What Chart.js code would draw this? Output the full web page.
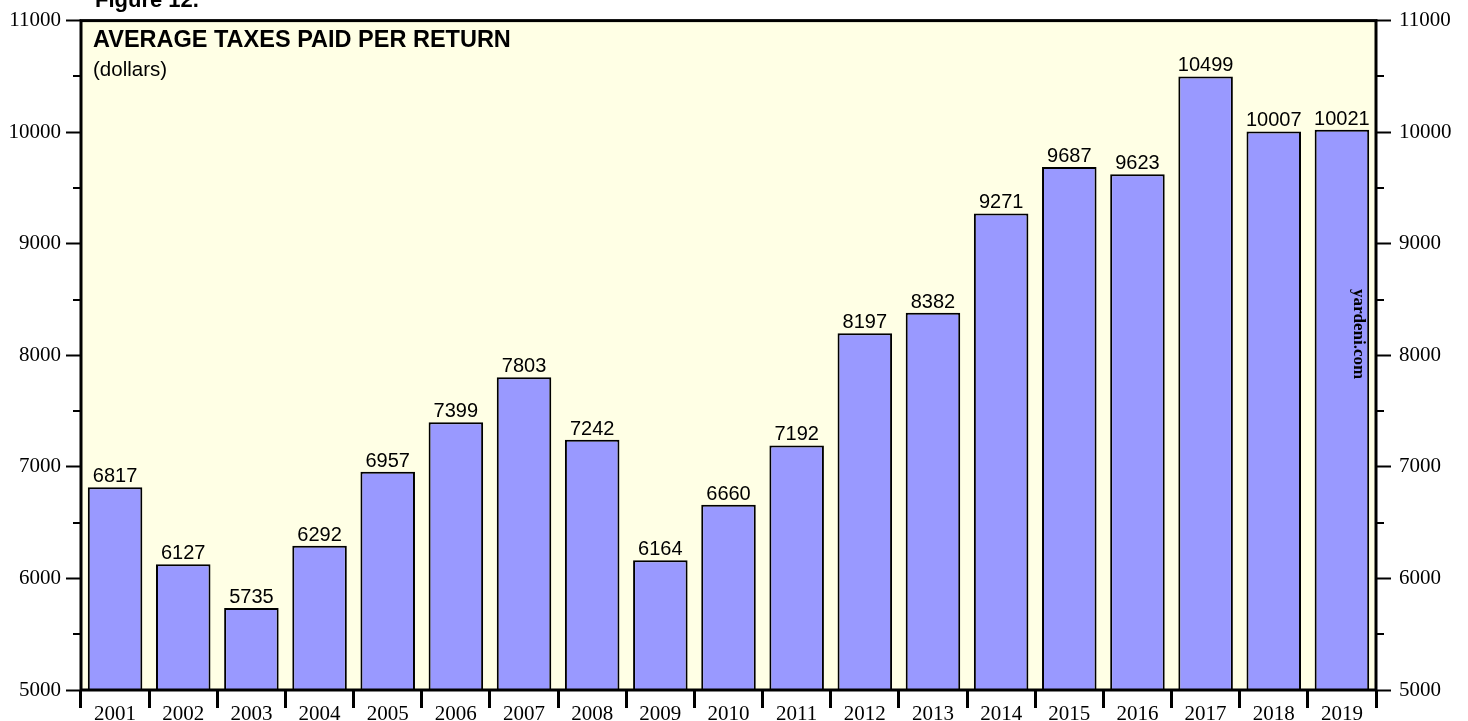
<!DOCTYPE html>
<html>
<head>
<meta charset="utf-8">
<script src="https://cdn.jsdelivr.net/npm/chart.js@4.4.1/dist/chart.umd.min.js"></script>
<style>
html,body{margin:0;padding:0;background:#ffffff;}
#wrap{width:1468px;height:721px;position:relative;}
</style>
</head>
<body>
<div id="wrap"><canvas id="c" width="1468" height="721"></canvas></div>
<script>
const years = ['2001','2002','2003','2004','2005','2006','2007','2008','2009','2010','2011','2012','2013','2014','2015','2016','2017','2018','2019'];
const avgTaxes = [6817,6127,5735,6292,6957,7399,7803,7242,6164,6660,7192,8197,8382,9271,9687,9623,10499,10007,10021];
const yMin = 5000;
const yMax = 11000;
const yStep = 500;
const chartTitle = 'AVERAGE TAXES PAID PER RETURN';
const chartSubtitle = '(dollars)';
const figureLabel = 'Figure 12.';
const sourceLabel = 'yardeni.com';

const frameAndDecor = {
  id: 'frameAndDecor',
  beforeDraw(chart) {
    const {ctx, chartArea: a} = chart;
    ctx.save();
    ctx.fillStyle = '#FFFFE5';
    ctx.fillRect(a.left, a.top, a.right - a.left, a.bottom - a.top);
    ctx.restore();
  },
  afterDatasetsDraw(chart) {
    const {ctx, chartArea: a} = chart;
    const meta = chart.getDatasetMeta(0);
    ctx.save();
    // data labels
    ctx.fillStyle = '#000';
    ctx.font = '20px "Liberation Sans", Arial, sans-serif';
    ctx.textAlign = 'center';
    ctx.textBaseline = 'alphabetic';
    meta.data.forEach((bar, i) => {
      ctx.fillText(String(avgTaxes[i]), bar.x, bar.y - 5);
    });
    // title
    ctx.textAlign = 'left';
    ctx.font = 'bold 23.5px "Liberation Sans", Arial, sans-serif';
    ctx.fillText(chartTitle, 93, 47);
    ctx.font = '20.5px "Liberation Sans", Arial, sans-serif';
    ctx.fillText(chartSubtitle, 93, 76);
    // figure label (cut at top)
    ctx.font = 'bold 22px "Liberation Sans", Arial, sans-serif';
    ctx.fillText(figureLabel, 95, 7);
    // source, rotated
    ctx.save();
    ctx.translate(1358, 334);
    ctx.rotate(Math.PI / 2);
    ctx.font = 'bold 17px "Liberation Serif", "Times New Roman", serif';
    ctx.textAlign = 'center';
    ctx.textBaseline = 'middle';
    ctx.fillText(sourceLabel, 0, 0);
    ctx.restore();
    // frame
    ctx.strokeStyle = '#000';
    ctx.lineWidth = 3;
    ctx.strokeRect(a.left, a.top, a.right - a.left, a.bottom - a.top);
    // minor y ticks
    const yl = chart.scales.y;
    ctx.lineWidth = 2;
    for (let v = yMin; v <= yMax; v += yStep) {
      if (v % 1000 === 0) continue;
      const py = Math.round(yl.getPixelForValue(v));
      ctx.beginPath();
      ctx.moveTo(a.left - 8, py);
      ctx.lineTo(a.left, py);
      ctx.moveTo(a.right, py);
      ctx.lineTo(a.right + 8, py);
      ctx.stroke();
    }
    ctx.restore();
  }
};

const tickCol = (ctx) => (ctx.tick && ctx.tick.value % 1000 === 0) ? '#000' : 'rgba(0,0,0,0)';

new Chart(document.getElementById('c'), {
  type: 'bar',
  data: {
    labels: years,
    datasets: [{
      data: avgTaxes,
      backgroundColor: '#9999FF',
      borderColor: '#000',
      borderWidth: 2,
      barPercentage: 0.8,
      categoryPercentage: 1.0,
      yAxisID: 'y'
    }]
  },
  options: {
    responsive: false,
    animation: false,
    devicePixelRatio: 1,
    layout: {padding: {top: 19, left: 0, right: 0, bottom: 0}},
    plugins: {legend: {display: false}, tooltip: {enabled: false}, title: {display: false}},
    scales: {
      x: {
        offset: true,
        afterFit(s) { s.height = 31; },
        grid: {offset: true, drawOnChartArea: false, drawTicks: true, tickLength: 18, tickWidth: 3, tickColor: '#000', color: '#000'},
        border: {display: false},
        ticks: {color: '#000', padding: -6, maxRotation: 0, autoSkip: false,
          font: {family: '"Liberation Serif", "Times New Roman", serif', size: 21}}
      },
      y: {
        position: 'left',
        min: yMin, max: yMax,
        afterFit(s) { s.width = 81; },
        grid: {drawOnChartArea: false, drawTicks: true, tickLength: 15, tickWidth: 2, tickColor: tickCol},
        border: {display: false},
        ticks: {stepSize: yStep, color: '#000', padding: 5,
          callback: (v) => v % 1000 === 0 ? String(v) : '',
          font: {family: '"Liberation Serif", "Times New Roman", serif', size: 21}}
      },
      y2: {
        position: 'right',
        min: yMin, max: yMax,
        afterFit(s) { s.width = 92; },
        grid: {drawOnChartArea: false, drawTicks: true, tickLength: 15, tickWidth: 2, tickColor: tickCol},
        border: {display: false},
        ticks: {stepSize: yStep, color: '#000', padding: 8,
          callback: (v) => v % 1000 === 0 ? String(v) : '',
          font: {family: '"Liberation Serif", "Times New Roman", serif', size: 21}}
      }
    }
  },
  plugins: [frameAndDecor]
});
</script>
</body>
</html>
